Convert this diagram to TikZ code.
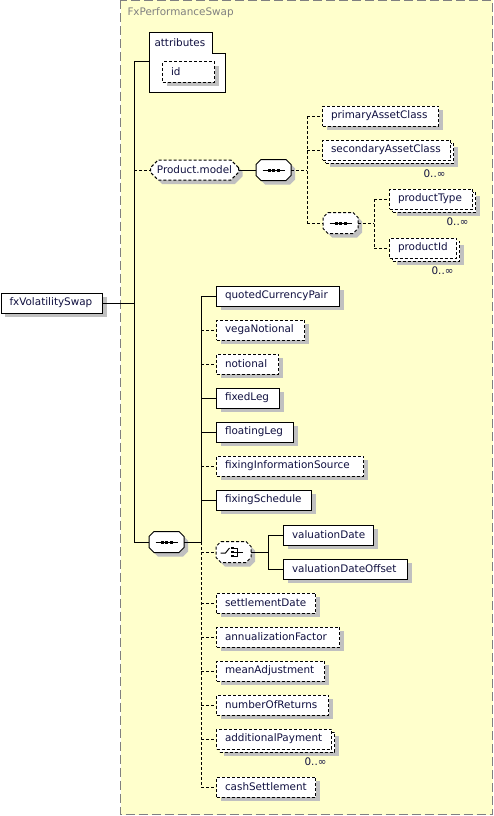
\documentclass[tikz,border=0pt]{standalone}
\usepackage{fontspec}
\setmainfont{DejaVu Sans}
\usetikzlibrary{shapes.misc}

\definecolor{bgyellow}{RGB}{255,255,204}
\definecolor{shadowgray}{RGB}{192,192,192}
\definecolor{txtblue}{RGB}{16,16,64}
\definecolor{framegray}{RGB}{128,128,128}

% octagon frame round an empty compositor node
\newcommand{\octo}[2][]{%
  \draw[fill=white, shade, #1]
    ([xshift=5pt]#2.north west) -- ([xshift=-5pt]#2.north east)
    -- ([yshift=-5pt]#2.north east) -- ([yshift=5pt]#2.south east)
    -- ([xshift=-5pt]#2.south east) -- ([xshift=5pt]#2.south west)
    -- ([yshift=5pt]#2.south west) -- ([yshift=-5pt]#2.north west) -- cycle;
}
% sequence and choice glyphs inside a compositor node
\newcommand{\seqicon}[1]{%
  \draw[shift={(#1.center)}] (-11,0) -- (11,0);
  \foreach \k in {-4.5,0,4.5}
    \fill[shift={(#1.center)}] (\k-1.5,-1.5) rectangle (\k+1.5,1.5);
}
\newcommand{\choiceicon}[1]{%
  \draw[shift={(#1.center)}] (-13,1) -- (-8,1) -- (-4,-4);
  \foreach \k in {-4,0,4} {
    \fill[shift={(#1.center)}] (-2.5,\k-1.3) rectangle (0,\k+1.3);
    \draw[shift={(#1.center)}] (0,\k) -- (4,\k);
  }
  \draw[shift={(#1.center)}] (4,-4) -- (4,4) (4,0) -- (9,0);
}

\begin{document}
\begin{tikzpicture}[
  x=1pt,y=-1pt,
  line width=1pt,
  line cap=butt,
  txt/.style={font=\fontsize{10.4pt}{12pt}\selectfont, text=txtblue},
  shade/.style={preaction={draw=none, fill=shadowgray,
      transform canvas={shift={(4pt,-4pt)}}}},
  dline/.style={dash pattern=on 3pt off 2pt},
  elbase/.style={draw, fill=white, txt, anchor=west, align=left,
    inner xsep=8.5pt, inner ysep=0pt, minimum height=20pt},
  elem/.style={elbase, shade, text width=#1},
  optelem/.style={elbase, shade, dline, text width=#1},
  multielem/.style={elbase, dline, text width=#1,
    preaction={draw=none, fill=shadowgray,
      transform canvas={shift={(7pt,-7pt)}}},
    preaction={draw, fill=white, dline,
      transform canvas={shift={(3pt,-3pt)}}}},
  comp/.style={anchor=west, inner sep=0pt,
    minimum width=34pt, minimum height=20pt},
  mult/.style={txt, anchor=east, inner sep=0pt}
]
  \useasboundingbox (0,0) rectangle (494,816);

  % Complex type frame
  \draw[framegray, dash pattern=on 9pt off 4pt, fill=bgyellow]
    (120.5,0.5) rectangle (492.5,814.5);
  \node[txt, text=framegray, anchor=west, inner sep=0pt] (title) at (127,13) {FxPerformanceSwap};

  % Root element
  \node[elem=84.5pt] (root) at (0.5,303) {fxVolatilitySwap};
  \coordinate (spine) at (134,303);

  % Attributes
  \draw[fill=white] (149,33) -- (212,33) -- (212,54) -- (225,54) -- (225,92) -- (149,92) -- cycle;
  \node[txt, anchor=west, inner sep=0pt] (attr) at (154,43) {attributes};
  \coordinate (attrin) at (149,62);
  \node[optelem=35pt] (id) at (162,72) {id};

  % Product.model group
  \node[chamfered rectangle, chamfered rectangle xsep=4pt, draw, fill=white,
    shade, dline, txt, anchor=west, inner sep=0pt,
    minimum width=88pt, minimum height=20pt] (pm) at (150,170) {Product.model};
  \node[comp] (seqA) at (256,170) {};
  \coordinate (forkA) at (307,170);
  \node[optelem=99pt] (pac) at (322,116) {primaryAssetClass};
  \node[multielem=111pt] (sac) at (322,150) {secondaryAssetClass};
  \node[mult] (sacmult) at (446,174) {0..∞};
  \node[comp] (seqB) at (323,223) {};
  \coordinate (forkB) at (374,223);
  \node[multielem=66pt] (ptype) at (389,199) {productType};
  \node[mult] (ptypemult) at (469,222) {0..∞};
  \node[multielem=50pt] (pid) at (389,248) {productId};
  \node[mult] (pidmult) at (454,271) {0..∞};

  % Main sequence
  \node[comp] (seqM) at (149,542) {};
  \coordinate (fork) at (201,542);
  \node[elem=106pt] (qcp) at (216,296) {quotedCurrencyPair};
  \node[optelem=71pt] (vega) at (216,330) {vegaNotional};
  \node[optelem=45pt] (notional) at (216,364) {notional};
  \node[elem=46pt] (fixed) at (216,398) {fixedLeg};
  \node[elem=60pt] (floating) at (216,432) {floatingLeg};
  \node[optelem=130pt] (fis) at (216,466) {fixingInformationSource};
  \node[elem=78pt] (fsched) at (216,500) {fixingSchedule};
  \node[comp] (choice) at (216,552) {};
  \coordinate (forkC) at (268,552);
  \node[elem=73pt] (vd) at (283,535) {valuationDate};
  \node[elem=107pt] (vdo) at (283,569) {valuationDateOffset};
  \node[optelem=82pt] (sd) at (216,603) {settlementDate};
  \node[optelem=106pt] (af) at (216,637) {annualizationFactor};
  \node[optelem=91pt] (ma) at (216,671) {meanAdjustment};
  \node[optelem=95pt] (nr) at (216,705) {numberOfReturns};
  \node[multielem=98pt] (ap) at (216,739) {additionalPayment};
  \node[mult] (apmult) at (327,762) {0..∞};
  \node[optelem=82pt] (cs) at (216,787) {cashSettlement};

  % Compositor frames and glyphs
  \octo{seqA}
  \octo[dline]{seqB}
  \octo{seqM}
  \octo[dline]{choice}
  \seqicon{seqA}
  \seqicon{seqB}
  \seqicon{seqM}
  \choiceicon{choice}

  % Connectors from the root
  \draw (root.east) -- (spine);
  \draw (spine |- attrin) -- (spine |- seqM.west);
  \draw (spine |- attrin) -- (attrin);
  \draw[dline] (spine |- pm.west) -- (pm.west);
  \draw (spine |- seqM.west) -- (seqM.west);

  % Product.model branches
  \draw (pm.east) -- (seqA.west);
  \draw[dline] (seqA.east) -- (forkA);
  \draw[dline] (forkA |- pac.west) -- (forkA |- seqB.west);
  \foreach \n in {pac,sac,seqB}
    \draw[dline] (forkA |- \n.west) -- (\n.west);
  \draw[dline] (seqB.east) -- (forkB);
  \draw[dline] (forkB |- ptype.west) -- (forkB |- pid.west);
  \foreach \n in {ptype,pid}
    \draw[dline] (forkB |- \n.west) -- (\n.west);

  % Main sequence branches
  \draw (seqM.east) -- (fork);
  \draw (fork |- qcp.west) -- (fork);
  \draw[dline] (fork) -- (fork |- cs.west);
  \foreach \n in {qcp,fixed,floating,fsched}
    \draw (fork |- \n.west) -- (\n.west);
  \foreach \n in {vega,notional,fis,choice,sd,af,ma,nr,ap,cs}
    \draw[dline] (fork |- \n.west) -- (\n.west);

  % Choice branches
  \draw (choice.east) -- (forkC);
  \draw (forkC |- vd.west) -- (forkC |- vdo.west);
  \foreach \n in {vd,vdo}
    \draw (forkC |- \n.west) -- (\n.west);
\end{tikzpicture}
\end{document}
